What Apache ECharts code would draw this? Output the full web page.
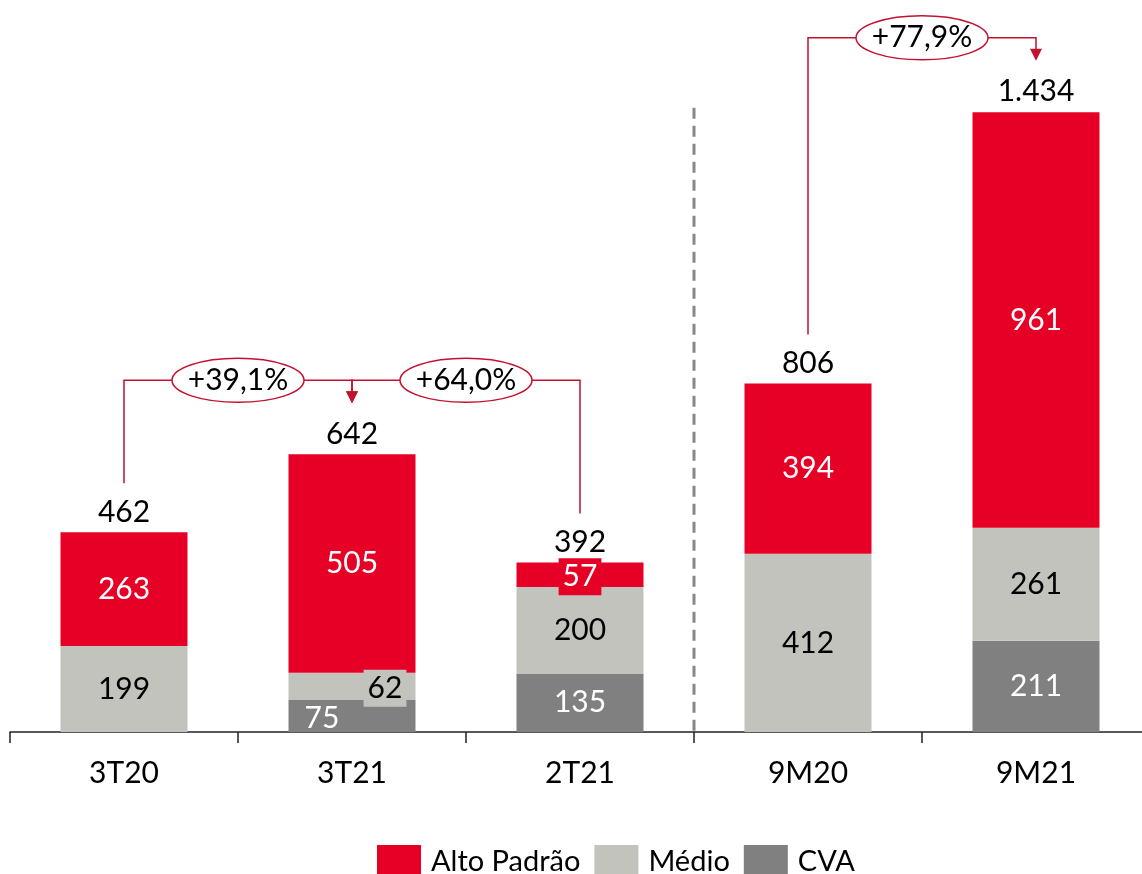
<!DOCTYPE html>
<html>
<head>
<meta charset="utf-8">
<script src="https://cdn.jsdelivr.net/npm/echarts@6/dist/echarts.min.js"></script>
<style>
html,body{margin:0;padding:0;background:#fff;}
#main{width:1142px;height:874px;}
</style>
</head>
<body>
<div id="main"></div>
<script>
const categories = ['3T20', '3T21', '2T21', '9M20', '9M21'];
const altoPadrao = [263, 505, 57, 394, 961];
const medio = [199, 62, 200, 412, 261];
const cva = [0, 75, 135, 0, 211];
const totals = [462, 642, 392, 806, 1434];
const totalLabels = ['462', '642', '392', '806', '1.434'];
// growth annotations: from category index -> to category index
const growthFrom = [0, 2, 3];
const growthTo = [1, 1, 4];
const growthLabels = ['+39,1%', '+64,0%', '+77,9%'];

const RED = '#E60026';
const LGRAY = '#C3C3BE';
const DGRAY = '#808080';
const ANN = '#C4112F';
const FONT = 'Lato';
const FS = 30;

const chart = echarts.init(document.getElementById('main'), null, {renderer: 'canvas'});

function items(values, overrides) {
  return values.map((v, i) => {
    const it = {value: v};
    if (v === 0) it.label = {show: false};
    if (overrides[i]) it.label = Object.assign({}, overrides[i]);
    return it;
  });
}

const baseLabel = {show: true, position: 'inside', fontFamily: FONT, fontSize: FS};

const option = {
  animation: false,
  backgroundColor: '#fff',
  grid: {left: 10, right: -8, top: 40, bottom: 142, containLabel: false, outerBoundsMode: 'none'},
  legend: {
    data: ['Alto Padrão', 'Médio', 'CVA'],
    top: 840,
    left: 372,
    itemWidth: 44,
    itemHeight: 33,
    itemGap: 14,
    icon: 'rect',
    textStyle: {fontFamily: FONT, fontSize: 29, color: '#000', padding: [0, 0, 0, 5]}
  },
  xAxis: {
    type: 'category',
    data: categories,
    axisLine: {lineStyle: {color: '#222', width: 1.5}},
    axisTick: {show: true, length: 11, lineStyle: {color: '#222', width: 1.5}},
    axisLabel: {fontFamily: FONT, fontSize: FS, color: '#000', margin: 26}
  },
  yAxis: {type: 'value', min: 0, max: 1600, show: false, splitLine: {show: false}},
  series: [
    {
      name: 'CVA', type: 'bar', stack: 'total', barWidth: 127,
      itemStyle: {color: DGRAY},
      label: Object.assign({}, baseLabel, {color: '#fff'}),
      data: items(cva, {1: Object.assign({}, baseLabel, {color: '#fff', offset: [-30, 3]})})
    },
    {
      name: 'Médio', type: 'bar', stack: 'total', barWidth: 127,
      itemStyle: {color: LGRAY},
      label: Object.assign({}, baseLabel, {color: '#000'}),
      data: items(medio, {1: Object.assign({}, baseLabel, {color: '#000', backgroundColor: LGRAY, padding: [4, 4, 3, 4], offset: [33, 2]})})
    },
    {
      name: 'Alto Padrão', type: 'bar', stack: 'total', barWidth: 127,
      itemStyle: {color: RED},
      label: Object.assign({}, baseLabel, {color: '#fff'}),
      data: items(altoPadrao, {2: Object.assign({}, baseLabel, {color: '#fff', backgroundColor: RED, padding: [4, 4, 3, 4], offset: [0, 2]})})
    },
    {
      name: 'Total', type: 'bar', barWidth: 127, barGap: '-100%', silent: true, z: 1,
      itemStyle: {color: 'rgba(0,0,0,0)'},
      label: {
        show: true, position: 'top', distance: 5, fontFamily: FONT, fontSize: FS, color: '#000',
        formatter: p => totalLabels[p.dataIndex]
      },
      data: totals
    }
  ]
};
chart.setOption(option);

function px(i) { return chart.convertToPixel({xAxisIndex: 0}, categories[i]); }
function py(v) { return chart.convertToPixel({yAxisIndex: 0}, v); }

const graphics = [];
// dashed separator between 2T21 and 9M20
const sepX = (px(2) + px(3)) / 2;
graphics.push({
  type: 'line', z: 5,
  shape: {x1: sepX, y1: py(totals[4]) - 4, x2: sepX, y2: py(0) - 1},
  style: {stroke: '#888', lineWidth: 3, lineDash: [11, 7]}
});

growthLabels.forEach((txt, k) => {
  const f = growthFrom[k], t = growthTo[k];
  const xf = px(f), xt = px(t);
  const topF = py(totals[f]), topT = py(totals[t]);
  const level = topT - 74;
  const startY = topF - 49;
  const tipY = topT - 51;
  graphics.push({
    type: 'polyline', z: 10,
    shape: {points: [[xf, startY], [xf, level], [xt, level], [xt, tipY - 10]]},
    style: {stroke: ANN, lineWidth: 1.5, fill: null}
  });
  graphics.push({
    type: 'polygon', z: 10,
    shape: {points: [[xt - 6, tipY - 12], [xt + 6, tipY - 12], [xt, tipY]]},
    style: {fill: ANN}
  });
  const cx = (xf + xt) / 2;
  graphics.push({
    type: 'ellipse', z: 11,
    shape: {cx: cx, cy: level, rx: 66, ry: 22},
    style: {fill: '#fff', stroke: ANN, lineWidth: 1.5}
  });
  graphics.push({
    type: 'text', z: 12,
    x: cx, y: level,
    style: {text: txt, fontFamily: FONT, fontSize: FS, fill: '#000', align: 'center', verticalAlign: 'middle'}
  });
});

chart.setOption({graphic: graphics});
</script>
</body>
</html>
